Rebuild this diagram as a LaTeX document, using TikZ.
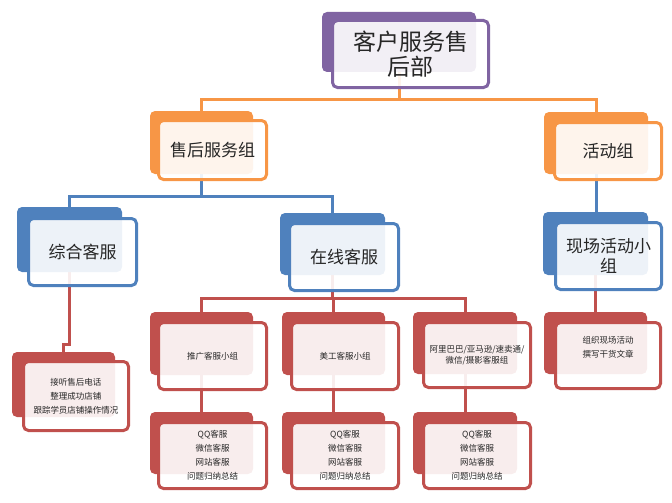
\documentclass[tikz,border=0pt]{standalone}
\usepackage{fontspec}
\setmainfont{Noto Sans CJK SC}
\definecolor{cpurple}{HTML}{8064A2}
\definecolor{corange}{HTML}{F79646}
\definecolor{cblue}{HTML}{4F81BD}
\definecolor{cred}{HTML}{C0504D}
\definecolor{txt}{HTML}{262626}
\pgfdeclarelayer{bg}
\pgfsetlayers{bg,main}
\begin{document}
\begin{tikzpicture}[x=1pt,y=-1pt,
  backbox/.style={draw=none,fill=#1,rounded corners=5pt,anchor=north west,inner sep=0pt,outer sep=0pt},
  frontbox/.style={draw=#1,line width=3pt,fill=white,fill opacity=0.9,text opacity=1,rounded corners=5pt,
    anchor=north west,inner sep=0pt,outer sep=0pt,align=center,text=txt},
  bigtxt/.style={font={\fontsize{23}{25}\selectfont}},
  midtxt/.style={font={\fontsize{17}{20}\selectfont}},
  smalltxt/.style={font={\fontsize{8.5}{14}\selectfont}},
  conn/.style={draw=#1,line width=3pt}]
\useasboundingbox (0,0) rectangle (672,503);

% back boxes
\node[backbox=cpurple,minimum width=154pt,minimum height=60pt] (topb) at (322,12) {};
\node[backbox=corange,minimum width=103pt,minimum height=63pt] (shb) at (150,111) {};
\node[backbox=corange,minimum width=104pt,minimum height=62pt] (hdb) at (544,112) {};
\node[backbox=cblue,minimum width=105pt,minimum height=65pt] (zhb) at (17,207) {};
\node[backbox=cblue,minimum width=105pt,minimum height=62pt] (zxb) at (280,213) {};
\node[backbox=cblue,minimum width=105pt,minimum height=63pt] (xcb) at (543,212) {};
\node[backbox=cred,minimum width=103pt,minimum height=65pt] (jtb) at (12,352) {};
\node[backbox=cred,minimum width=103pt,minimum height=63pt] (tgb) at (150,312) {};
\node[backbox=cred,minimum width=103pt,minimum height=63pt] (mgb) at (282,312) {};
\node[backbox=cred,minimum width=104pt,minimum height=62pt] (alb) at (413,312) {};
\node[backbox=cred,minimum width=103pt,minimum height=62pt] (zzb) at (544,312) {};
\node[backbox=cred,minimum width=103pt,minimum height=62pt] (qab) at (150,412) {};
\node[backbox=cred,minimum width=103pt,minimum height=62pt] (qbb) at (282,412) {};
\node[backbox=cred,minimum width=104pt,minimum height=62pt] (qcb) at (413,412) {};

% bus coordinates
\coordinate (y1) at (0,99);
\coordinate (y2) at (0,196);
\coordinate (y3) at (0,298);
\coordinate (y4) at (0,344);

\begin{pgfonlayer}{bg}
\draw[conn=corange] (topb.south) -- (topb.south |- y1) -| (shb.north);
\draw[conn=corange] (topb.south |- y1) -| (hdb.north);
\draw[conn=cblue] (shb.south) -- (shb.south |- y2) -| (zhb.north);
\draw[conn=cblue] (shb.south |- y2) -| (zxb.north);
\draw[conn=cblue] (hdb.south) -- (hdb.south |- xcb.north);
\draw[conn=cred] (zxb.south) -- (zxb.south |- y3) -| (tgb.north);
\draw[conn=cred] (zxb.south |- y3) -| (mgb.north);
\draw[conn=cred] (zxb.south |- y3) -| (alb.north);
\draw[conn=cred] (zhb.south) -- (zhb.south |- y4) -| (jtb.north);
\draw[conn=cred] (tgb.south) -- (tgb.south |- qab.north);
\draw[conn=cred] (mgb.south) -- (mgb.south |- qbb.north);
\draw[conn=cred] (alb.south) -- (alb.south |- qcb.north);
\draw[conn=cred] (xcb.south) -- (xcb.south |- zzb.north);
\end{pgfonlayer}

% front boxes
\node[frontbox=cpurple,bigtxt,minimum width=156pt,minimum height=67pt] (top) at (332.5,20.5) {客户服务售\\后部};
\node[frontbox=corange,midtxt,minimum width=108pt,minimum height=59pt] (sh) at (158.5,120.5) {售后服务组};
\node[frontbox=corange,midtxt,minimum width=107pt,minimum height=57pt] (hd) at (554.5,122.5) {活动组};
\node[frontbox=cblue,midtxt,minimum width=108pt,minimum height=67pt] (zh) at (28.5,218.5) {综合客服};
\node[frontbox=cblue,midtxt,minimum width=109pt,minimum height=67pt] (zx) at (289.5,223.5) {在线客服};
\node[frontbox=cblue,midtxt,minimum width=106pt,minimum height=67pt] (xc) at (555.5,222.5) {现场活动小\\组};
\node[frontbox=cred,smalltxt,minimum width=105pt,minimum height=69pt] (jt) at (23.5,361.5) {接听售后电话\\整理成功店铺\\跟踪学员店铺操作情况};
\node[frontbox=cred,smalltxt,minimum width=108pt,minimum height=67pt] (tg) at (158.5,322.5) {推广客服小组};
\node[frontbox=cred,smalltxt,minimum width=107pt,minimum height=67pt] (mg) at (291.5,322.5) {美工客服小组};
\node[frontbox=cred,font={\fontsize{8.5}{11}\selectfont},minimum width=107pt,minimum height=65pt] (al) at (423.5,322.5) {阿里巴巴/亚马逊/速卖通/\\微信/摄影客服组};
\node[frontbox=cred,smalltxt,text depth=18pt,minimum width=105pt,minimum height=66pt] (zz) at (555.5,322.5) {组织现场活动\\撰写干货文章};
\node[frontbox=cred,smalltxt,minimum width=108pt,minimum height=66pt] (qa) at (158.5,422.5) {QQ客服\\微信客服\\网站客服\\问题归纳总结};
\node[frontbox=cred,smalltxt,minimum width=107pt,minimum height=66pt] (qb) at (291.5,422.5) {QQ客服\\微信客服\\网站客服\\问题归纳总结};
\node[frontbox=cred,smalltxt,minimum width=107pt,minimum height=66pt] (qc) at (423.5,422.5) {QQ客服\\微信客服\\网站客服\\问题归纳总结};
\end{tikzpicture}
\end{document}
